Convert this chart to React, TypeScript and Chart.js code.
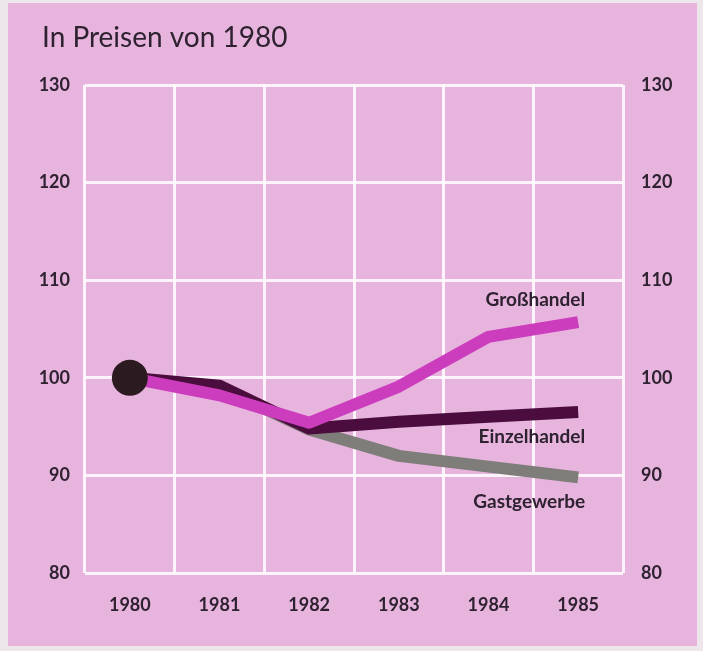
import React, { useEffect, useRef } from "react";
import { Chart, registerables } from "chart.js";

Chart.register(...registerables);

const years = ["1980", "1981", "1982", "1983", "1984", "1985"];
const grosshandel = [100, 98.2, 95.4, 99.1, 104.2, 105.7];
const einzelhandel = [100, 99.2, 94.8, 95.5, 96.0, 96.5];
const gastgewerbe = [100, 99.0, 94.7, 92.0, 90.9, 89.8];
const startPoint = [100, null, null, null, null, null];
const seriesNames = ["Großhandel", "Einzelhandel", "Gastgewerbe"];
const labelValues = [108.0, 93.9, 87.3];
const titleText = "In Preisen von 1980";

const FONT = "Lato, 'Open Sans', sans-serif";

const bgPlugin = {
  id: "bg",
  beforeDraw(chart: any) {
    const { ctx, width, height } = chart;
    ctx.save();
    ctx.fillStyle = "#ede6ea";
    ctx.fillRect(0, 0, width, height);
    ctx.fillStyle = "#e7b4de";
    ctx.fillRect(8, 3, width - 14, height - 8);
    ctx.fillStyle = "#2e2230";
    ctx.font = `28px ${FONT}`;
    ctx.textBaseline = "alphabetic";
    ctx.textAlign = "left";
    ctx.fillText(titleText, 42, 47);
    ctx.restore();
  },
};

const labelPlugin = {
  id: "seriesLabels",
  afterDatasetsDraw(chart: any) {
    const { ctx, scales } = chart;
    const x = scales.x.getPixelForValue(years.length - 1) + 7;
    ctx.save();
    ctx.fillStyle = "#2e2230";
    ctx.font = `bold 19px ${FONT}`;
    ctx.textAlign = "right";
    ctx.textBaseline = "middle";
    seriesNames.forEach((n, i) => {
      ctx.fillText(n, x, scales.y.getPixelForValue(labelValues[i]));
    });
    ctx.restore();
  },
};

export default function App() {
  const ref = useRef<HTMLCanvasElement>(null);
  useEffect(() => {
    const tickFont = { family: FONT, size: 18, weight: "bold" as const };
    const chart = new Chart(ref.current!, {
      type: "line",
      data: {
        labels: years,
        datasets: [
          {
            label: "dot",
            data: startPoint,
            borderWidth: 0,
            pointRadius: 18,
            pointBackgroundColor: "#2b1b20",
            pointBorderWidth: 0,
            showLine: false,
            order: 0,
          },
          {
            label: seriesNames[0],
            data: grosshandel,
            borderColor: "#cc3dbd",
            borderWidth: 12,
            borderJoinStyle: "round",
            pointRadius: 0,
            tension: 0,
            order: 1,
          },
          {
            label: seriesNames[1],
            data: einzelhandel,
            borderColor: "#4a0d3d",
            borderWidth: 12,
            borderJoinStyle: "round",
            pointRadius: 0,
            tension: 0,
            order: 2,
          },
          {
            label: seriesNames[2],
            data: gastgewerbe,
            borderColor: "#7f7d7a",
            borderWidth: 12,
            borderJoinStyle: "round",
            pointRadius: 0,
            tension: 0,
            order: 3,
          },
        ],
      },
      options: {
        animation: false,
        responsive: false,
        layout: { padding: { top: 85, left: 0, right: 0, bottom: 0 } },
        plugins: { legend: { display: false }, tooltip: { enabled: false } },
        scales: {
          x: {
            type: "category",
            offset: true,
            grid: { offset: true, color: "rgba(255,255,255,0.85)", lineWidth: 3, drawTicks: false },
            border: { display: false },
            ticks: { color: "#2e2230", font: tickFont, padding: 21, maxRotation: 0 },
            afterFit(s: any) {
              s.height = 78;
            },
          },
          y: {
            position: "left",
            min: 80,
            max: 130,
            grid: { color: "rgba(255,255,255,0.85)", lineWidth: 3, drawTicks: false },
            border: { display: false },
            ticks: { stepSize: 10, color: "#2e2230", font: tickFont, padding: 15 },
            afterFit(s: any) {
              s.width = 85;
            },
          },
          y2: {
            position: "right",
            min: 80,
            max: 130,
            grid: { display: false, drawTicks: false },
            border: { display: false },
            ticks: { stepSize: 10, color: "#2e2230", font: tickFont, padding: 18 },
            afterFit(s: any) {
              s.width = 80;
            },
          },
        },
      },
      plugins: [bgPlugin, labelPlugin],
    });
    return () => chart.destroy();
  }, []);
  return (
    <div style={{ position: "fixed", left: 0, top: 0, width: 703, height: 651 }}>
      <canvas ref={ref} width={703} height={651} />
    </div>
  );
}
